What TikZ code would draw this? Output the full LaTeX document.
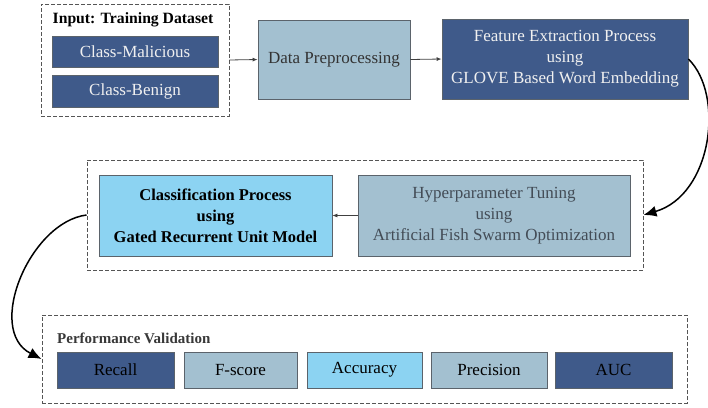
\documentclass[tikz,border=0pt]{standalone}
\usepackage{fontspec}
\setmainfont{Liberation Serif}
\usetikzlibrary{arrows.meta}
\definecolor{dkblue}{HTML}{3F5A8A}
\definecolor{ltsteel}{HTML}{A3C0D0}
\definecolor{skyb}{HTML}{8CD3F2}
\definecolor{bord}{HTML}{5B636B}
\definecolor{dashgray}{HTML}{555555}
\definecolor{hyptext}{HTML}{434C56}
\begin{document}
\begin{tikzpicture}[x=1pt,y=-1pt,
  box/.style={draw=bord, line width=0.8pt, inner sep=0pt, align=center, font=\rmfamily\fontsize{17}{21}\selectfont},
  dk/.style={box, fill=dkblue, text=white!88!gray},
  lt/.style={box, fill=ltsteel, text=black!80},
  sk/.style={box, fill=skyb, text=black},
  grp/.style={draw=dashgray, line width=0.9pt, dash pattern=on 4pt off 2pt, inner sep=0pt},
  heading/.style={inner sep=0pt, font=\rmfamily\bfseries\fontsize{15.7}{18}\selectfont},
  arr/.style={draw=black!75, line width=0.8pt, -{Latex[length=5pt,width=4pt]}},
  bigarr/.style={draw=black, line width=1.5pt, -{Latex[length=13pt,width=11pt]}}
]
\useasboundingbox (0,0) rectangle (708,407);

% top row
\node[grp, minimum width=188pt, minimum height=112pt] (inp) at (135,60) {};
\node[heading] (inph) at (133,20) {Input: Training Dataset};
\node[dk, minimum width=166pt, minimum height=31pt] (mal) at (135,51.5) {Class-Malicious};
\node[dk, minimum width=166pt, minimum height=32pt] (ben) at (135,91) {Class-Benign};
\node[lt, minimum width=152pt, minimum height=79pt] (data) at (334,59.5) {Data Preprocessing};
\node[dk, minimum width=246pt, minimum height=80pt] (feat) at (565,59) {Feature Extraction Process\\using\\GLOVE Based Word Embedding};

% middle row
\node[grp, minimum width=556pt, minimum height=110pt] (mid) at (365,215) {};
\node[sk, minimum width=233pt, minimum height=81pt, font=\rmfamily\bfseries\fontsize{16.5}{21}\selectfont] (cls) at (215.5,215.5) {Classification Process\\using\\Gated Recurrent Unit Model};
\node[box, fill=ltsteel, text=hyptext, minimum width=272pt, minimum height=81pt] (hyp) at (494,215.5) {Hyperparameter Tuning\\using\\Artificial Fish Swarm Optimization};

% bottom row
\node[grp, minimum width=645pt, minimum height=88pt] (bot) at (364.5,359) {};
\node[heading, anchor=west, font=\rmfamily\bfseries\fontsize{15}{18}\selectfont, text=black!78] (perf) at (57,338) {Performance Validation};
\node[dk, text=black, minimum width=117pt, minimum height=36pt] (rec) at (115.5,370) {Recall};
\node[lt, text=black, minimum width=113pt, minimum height=36pt] (fs) at (240.5,370) {F-score};
\node[sk, minimum width=115pt, minimum height=36pt] (acc) at (364.5,370) {Accuracy};
\node[lt, text=black, minimum width=116pt, minimum height=36pt] (pre) at (489,370) {Precision};
\node[dk, text=black, minimum width=117pt, minimum height=36pt] (auc) at (613.5,370) {AUC};

% connectors
\draw[arr] (inp.east) -- (data.west);
\draw[arr] (data.east) -- (feat.west);
\draw[arr] (hyp.west) -- (cls.east);
\draw[bigarr] (feat.east) .. controls (725,95) and (712,195) .. (mid.east);
\draw[bigarr] (mid.west) .. controls (30,222) and (-15,330) .. (bot.west);
\end{tikzpicture}
\end{document}
